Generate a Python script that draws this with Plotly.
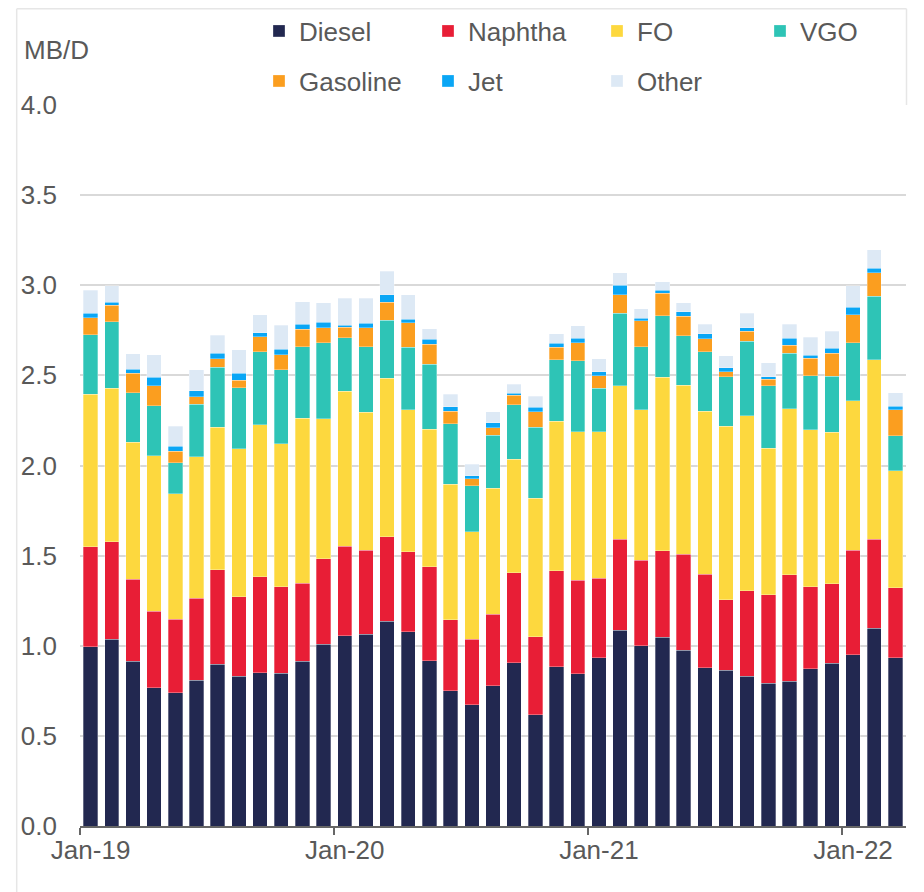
import plotly.graph_objects as go

month_names = ["Jan", "Feb", "Mar", "Apr", "May", "Jun",
               "Jul", "Aug", "Sep", "Oct", "Nov", "Dec"]
years = ["19", "20", "21", "22"]
months = [f"{m}-{y}" for y in years for m in month_names][:39]

diesel = [0.995, 1.037, 0.913, 0.767, 0.738, 0.808, 0.897, 0.832, 0.849, 0.847, 0.915, 1.008,
          1.056, 1.063, 1.137, 1.078, 0.917, 0.749, 0.673, 0.777, 0.906, 0.618, 0.884, 0.845,
          0.934, 1.086, 1.000, 1.047, 0.975, 0.877, 0.864, 0.830, 0.793, 0.804, 0.873, 0.904,
          0.949, 1.098, 0.934]
naphtha = [0.555, 0.539, 0.456, 0.424, 0.409, 0.455, 0.525, 0.440, 0.534, 0.481, 0.433, 0.475,
           0.497, 0.466, 0.468, 0.444, 0.522, 0.396, 0.363, 0.399, 0.499, 0.431, 0.532, 0.518,
           0.440, 0.504, 0.474, 0.480, 0.534, 0.519, 0.392, 0.474, 0.489, 0.589, 0.455, 0.439,
           0.580, 0.494, 0.388]
fo = [0.845, 0.852, 0.760, 0.864, 0.695, 0.786, 0.790, 0.820, 0.842, 0.793, 0.914, 0.777,
      0.859, 0.766, 0.879, 0.788, 0.762, 0.751, 0.597, 0.697, 0.629, 0.769, 0.829, 0.823,
      0.813, 0.853, 0.834, 0.964, 0.936, 0.905, 0.963, 0.972, 0.815, 0.922, 0.869, 0.841,
      0.829, 0.995, 0.648]
vgo = [0.331, 0.370, 0.275, 0.277, 0.172, 0.291, 0.334, 0.340, 0.406, 0.411, 0.397, 0.421,
       0.297, 0.364, 0.321, 0.347, 0.360, 0.336, 0.255, 0.295, 0.302, 0.394, 0.342, 0.394,
       0.242, 0.403, 0.351, 0.340, 0.275, 0.330, 0.274, 0.413, 0.346, 0.309, 0.301, 0.311,
       0.322, 0.352, 0.195]
gasoline = [0.094, 0.092, 0.109, 0.111, 0.065, 0.042, 0.045, 0.041, 0.082, 0.083, 0.097, 0.084,
            0.059, 0.104, 0.102, 0.136, 0.113, 0.070, 0.039, 0.042, 0.055, 0.087, 0.069, 0.101,
            0.069, 0.102, 0.143, 0.126, 0.109, 0.073, 0.026, 0.057, 0.035, 0.043, 0.096, 0.129,
            0.157, 0.129, 0.145]
jet = [0.024, 0.017, 0.021, 0.048, 0.028, 0.033, 0.033, 0.038, 0.024, 0.031, 0.027, 0.031,
       0.011, 0.027, 0.039, 0.018, 0.026, 0.024, 0.015, 0.027, 0.009, 0.025, 0.022, 0.024,
       0.022, 0.053, 0.014, 0.015, 0.024, 0.026, 0.024, 0.017, 0.015, 0.038, 0.017, 0.026,
       0.042, 0.025, 0.020]
other = [0.128, 0.091, 0.085, 0.124, 0.111, 0.117, 0.098, 0.130, 0.098, 0.133, 0.126, 0.107,
         0.149, 0.138, 0.133, 0.137, 0.059, 0.069, 0.066, 0.062, 0.052, 0.060, 0.053, 0.069,
         0.071, 0.069, 0.054, 0.048, 0.050, 0.055, 0.066, 0.083, 0.077, 0.080, 0.100, 0.096,
         0.117, 0.103, 0.074]

series = [
    ("Diesel", diesel, "#222850", "legend"),
    ("Naphtha", naphtha, "#e81e36", "legend"),
    ("FO", fo, "#fdd83e", "legend"),
    ("VGO", vgo, "#2ec4b6", "legend3"),
    ("Gasoline", gasoline, "#fb9e1f", "legend2"),
    ("Jet", jet, "#0aa6f5", "legend2"),
    ("Other", other, "#dde9f5", "legend2"),
]

FONT = "Liberation Sans, Arial, sans-serif"
TXT = "#595959"

fig = go.Figure()
for name, vals, color, lg in series:
    fig.add_trace(go.Bar(
        x=months, y=vals, name=name, legend=lg,
        marker=dict(color=color, line=dict(color="rgba(255,255,255,0.6)", width=0.5)),
    ))

W, H = 924, 892
L, R, T, B = 72, 26, 97, 74
pw, ph = W - L - R, H - T - B
OFF = 8  # page offset of the figure inside the browser window


def sx(x):
    return (x - OFF - L) / pw


def sy(y):
    return (H - B - (y - OFF)) / ph


legend_common = dict(orientation="h", xanchor="left", yanchor="middle",
                     entrywidth=124, entrywidthmode="pixels",
                     font=dict(size=26, color=TXT), bgcolor="rgba(0,0,0,0)",
                     traceorder="normal")

fig.update_layout(
    width=W, height=H,
    margin=dict(l=L, r=R, t=T, b=B, autoexpand=False),
    paper_bgcolor="white", plot_bgcolor="white",
    barmode="stack", bargap=0.32,
    font=dict(family=FONT, size=26, color=TXT),
    showlegend=True,
    legend=dict(x=sx(259), y=sy(31), **legend_common),
    legend3=dict(x=sx(259 + 3 * 167), y=sy(31), **legend_common),
    legend2=dict(x=sx(259), y=sy(81), **legend_common),
    xaxis=dict(
        type="category", tickmode="linear", tick0=0, dtick=12, tickangle=0,
        tickson="boundaries", ticks="outside", ticklen=7, tickwidth=1.5, tickcolor="#666666",
        showline=True, linecolor="#666666", linewidth=1.5,
        showgrid=False, tickfont=dict(size=26, color=TXT),
        range=[-0.5, 38.5], automargin=False,
    ),
    yaxis=dict(
        range=[0, 4.0], tickmode="linear", tick0=0, dtick=0.5, tickformat=".1f",
        showgrid=True, gridcolor="#d9d9d9", gridwidth=1.5,
        zeroline=False, showline=False, ticks="",
        ticklabelstandoff=22, tickfont=dict(size=26, color=TXT), automargin=False,
    ),
    annotations=[dict(text="MB/D", xref="paper", yref="paper", x=sx(22), y=sy(50),
                      xanchor="left", yanchor="middle", showarrow=False,
                      font=dict(size=26, color=TXT))],
    shapes=[
        dict(type="line", xref="paper", yref="paper", x0=sx(16.7), x1=sx(16.7),
             y0=sy(8.75), y1=sy(900), line=dict(color="#e6e6e6", width=1.5)),
        dict(type="line", xref="paper", yref="paper", x0=sx(16.7), x1=sx(906.5),
             y0=sy(8.75), y1=sy(8.75), line=dict(color="#e6e6e6", width=1.5)),
        dict(type="line", xref="paper", yref="paper", x0=sx(906.5), x1=sx(906.5),
             y0=sy(8.75), y1=sy(105), line=dict(color="#e6e6e6", width=1.5)),
    ],
)

fig.write_html("out.html")
